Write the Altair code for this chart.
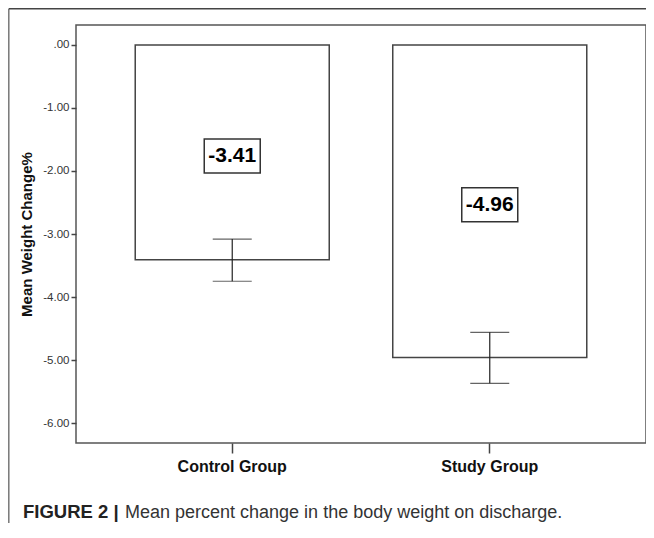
import altair as alt
import pandas as pd

groups = ["Control Group", "Study Group"]
means = [-3.41, -4.96]
err_low = [-3.75, -5.37]
err_high = [-3.08, -4.56]
labels = ["-3.41", "-4.96"]
y_ticks = [0, -1, -2, -3, -4, -5, -6]
caption_bold = "FIGURE 2 |"
caption_text = "Mean percent change in the body weight on discharge."

df = pd.DataFrame({"group": groups, "mean": means, "lo": err_low, "hi": err_high, "label": labels})

W, H = 570, 418
FONT = "Liberation Sans"

xenc = alt.X("group:N", sort=groups, title=None,
             scale=alt.Scale(paddingInner=0.2466, paddingOuter=0.23),
             axis=alt.Axis(labelAngle=0, labelFont=FONT, labelFontSize=16, labelFontWeight="bold",
                           labelColor="#111", ticks=True, tickSize=10, tickColor="#444", tickWidth=1.5,
                           domain=False, labelPadding=5, grid=False))
yscale = alt.Scale(domain=[-6.317, 0.317], nice=False, zero=False)
yenc = alt.Y("mean:Q", scale=yscale, title="Mean Weight Change%",
             axis=alt.Axis(values=y_ticks,
                           labelExpr="datum.value == 0 ? '.00' : replace(format(datum.value, '.2f'), '\u2212', '-')",
                           labelFont=FONT, labelFontSize=11.5, labelColor="#333", tickSize=5,
                           tickColor="#444", tickWidth=1.5, domain=False, grid=False, labelPadding=2,
                           titleFont=FONT, titleFontSize=15, titleFontWeight="bold", titleColor="#111",
                           titlePadding=8))

base = alt.Chart(df)

bars = base.mark_bar(fill="white", stroke="#444", strokeWidth=1.5).encode(
    x=xenc, y=yenc, y2=alt.datum(0))

rules = base.mark_rule(color="#222", strokeWidth=1.2).encode(
    x=alt.X("group:N", sort=groups), y=alt.Y("lo:Q", scale=yscale), y2="hi:Q")
cap_lo = base.mark_tick(color="#222", size=39, thickness=1.2).encode(
    x=alt.X("group:N", sort=groups), y=alt.Y("lo:Q", scale=yscale))
cap_hi = base.mark_tick(color="#222", size=39, thickness=1.2).encode(
    x=alt.X("group:N", sort=groups), y=alt.Y("hi:Q", scale=yscale))

lab_base = base.transform_calculate(mid="datum.mean / 2")
boxes = lab_base.mark_point(shape="M-1,-0.607L1,-0.607L1,0.607L-1,0.607Z", size=3136,
                            filled=False, stroke="#333", strokeWidth=1.5, fill="white",
                            opacity=1, yOffset=3.5).encode(
    x=alt.X("group:N", sort=groups), y=alt.Y("mid:Q", scale=yscale))
texts = lab_base.mark_text(font=FONT, fontSize=21, fontWeight="bold", color="#000",
                           baseline="middle", yOffset=4).encode(
    x=alt.X("group:N", sort=groups), y=alt.Y("mid:Q", scale=yscale), text="label:N")

frame_left = alt.Chart(pd.DataFrame({"a": [0]})).mark_rule(color="#777", strokeWidth=1.5).encode(
    x=alt.value(-67.2), y=alt.value(-16.2), y2=alt.value(H + 90))
frame_top = alt.Chart(pd.DataFrame({"a": [0]})).mark_rule(color="#444", strokeWidth=1.5).encode(
    x=alt.value(-67.2), x2=alt.value(W + 1), y=alt.value(-16.2))

cap1 = alt.Chart(pd.DataFrame({"t": [caption_bold]})).mark_text(
    font=FONT, fontSize=18.5, fontWeight="bold", color="#222", align="left", baseline="alphabetic").encode(
    x=alt.value(-53), y=alt.value(493), text="t:N")
cap2 = alt.Chart(pd.DataFrame({"t": [caption_text]})).mark_text(
    font=FONT, fontSize=18, color="#333", align="left", baseline="alphabetic").encode(
    x=alt.value(49), y=alt.value(493), text="t:N")

chart = alt.layer(bars, rules, cap_lo, cap_hi, boxes, texts, frame_left, frame_top, cap1, cap2).properties(
    width=W, height=H,
    autosize=alt.AutoSizeParams(type="none"),
    padding={"left": 68, "top": 17, "right": 0, "bottom": 80},
    background="white",
).configure_view(stroke="#555", strokeWidth=1.5)

chart.save("out.html", embed_options={"renderer": "svg", "actions": False})
